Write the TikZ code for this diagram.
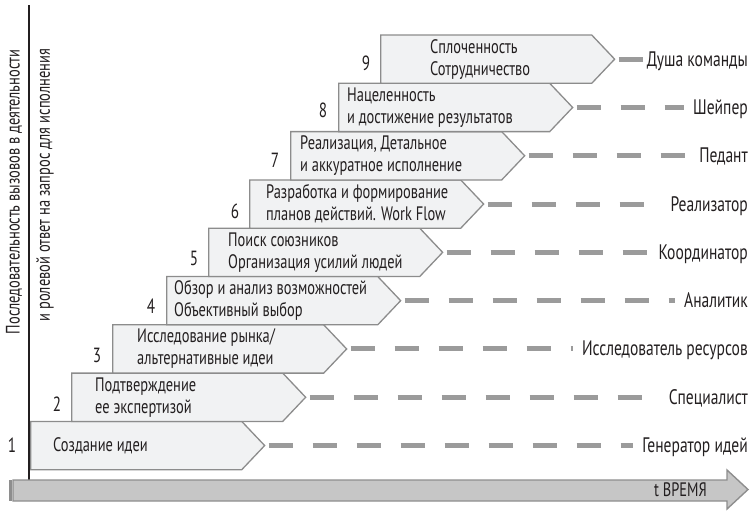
\documentclass[tikz,border=0pt]{standalone}
\usepackage{fontspec}
\setmainfont{PT Sans}[FakeStretch=0.74]
\usetikzlibrary{shapes.symbols}
\definecolor{boxfill}{HTML}{F1F2F3}
\definecolor{boxedge}{HTML}{8C8C8C}
\definecolor{dashc}{HTML}{9B9B9B}
\definecolor{barfill}{HTML}{C6C6C6}
\definecolor{baredge}{HTML}{8E8E8E}
\definecolor{inkc}{HTML}{231F20}
\begin{document}
\begin{tikzpicture}[x=1pt,y=-1pt,
  every node/.style={text=inkc, font=\fontsize{19.5}{22}\selectfont},
  stepbox/.style={signal, signal to=east, signal pointer angle=93, draw=boxedge, fill=boxfill,
    line width=1.3pt, minimum width=234pt, minimum height=48.3pt, inner sep=0pt, anchor=west},
  steptext/.style={anchor=west, align=left, inner sep=0pt},
  stepnum/.style={inner sep=0pt, font=\fontsize{20.5}{22}\selectfont},
  rolelabel/.style={anchor=east, inner sep=2pt, text height=14pt, text depth=0pt,
    font=\fontsize{21}{24}\selectfont},
  dashline/.style={draw=dashc, line width=5pt, dash pattern=on 24pt off 20pt},
  barline/.style={draw=baredge, fill=barfill, line width=1.4pt, line join=miter},
  axisline/.style={draw=inkc, line width=1.3pt}
]
\useasboundingbox (0,0) rectangle (752,515);

\foreach \k/\lx/\tx/\nx/\ndy/\sh/\txt/\role in {
  1/30/53/12/0/7/{Создание идеи}/{Генератор идей},
  2/71/95/57/7/7/{Подтверждение\\ее экспертизой}/{Специалист},
  3/112/137/97/6/7/{Исследование рынка/\\альтернативные идеи}/{Исследователь ресурсов},
  4/166/174/151/6/7/{Обзор и анализ возможностей\\Объективный выбор}/{Аналитик},
  5/208/228/194/6/7/{Поиск союзников\\Организация усилий людей}/{Координатор},
  6/249/266/235/7/7/{Разработка и формирование\\планов действий. Work Flow}/{Реализатор},
  7/290/300/275/5/7/{Реализация, Детальное\\и аккуратное исполнение}/{Педант},
  8/338/347/323/3/7/{Нацеленность\\и достижение результатов}/{Шейпер},
  9/380/430/366/4/0/{Сплоченность\\Сотрудничество}/{Душа команды}%
}{
  \pgfmathsetmacro\cy{469.7-(\k-0.5)*48.3}
  \node[stepbox] (b\k) at (\lx,\cy) {};
  \node[steptext] (t\k) at (\tx,\cy) {\txt};
  \node[stepnum] (n\k) at (\nx,\cy+\ndy) {\k};
  \node[rolelabel] (r\k) at (750,\cy) {\role};
  \draw[dashline, shorten >=\sh pt] ([xshift=3pt]b\k.east) -- (r\k.west);
}

\draw[axisline] (29,5) -- (29,480);

\node[rotate=90] (v1) at (14,192) {Последовательность вызовов в деятельности};
\node[rotate=90] (v2) at (45,185) {и ролевой ответ на запрос для исполнения};

\fill[baredge] (9,480) rectangle (11.8,501);
\draw[barline] (13,480) -- (727,480) -- (727,470) -- (748,489.5) -- (727,509) -- (727,501) -- (13,501) -- cycle;
\node[anchor=east, inner sep=0pt] (tl) at (707,490) {t ВРЕМЯ};
\end{tikzpicture}
\end{document}
